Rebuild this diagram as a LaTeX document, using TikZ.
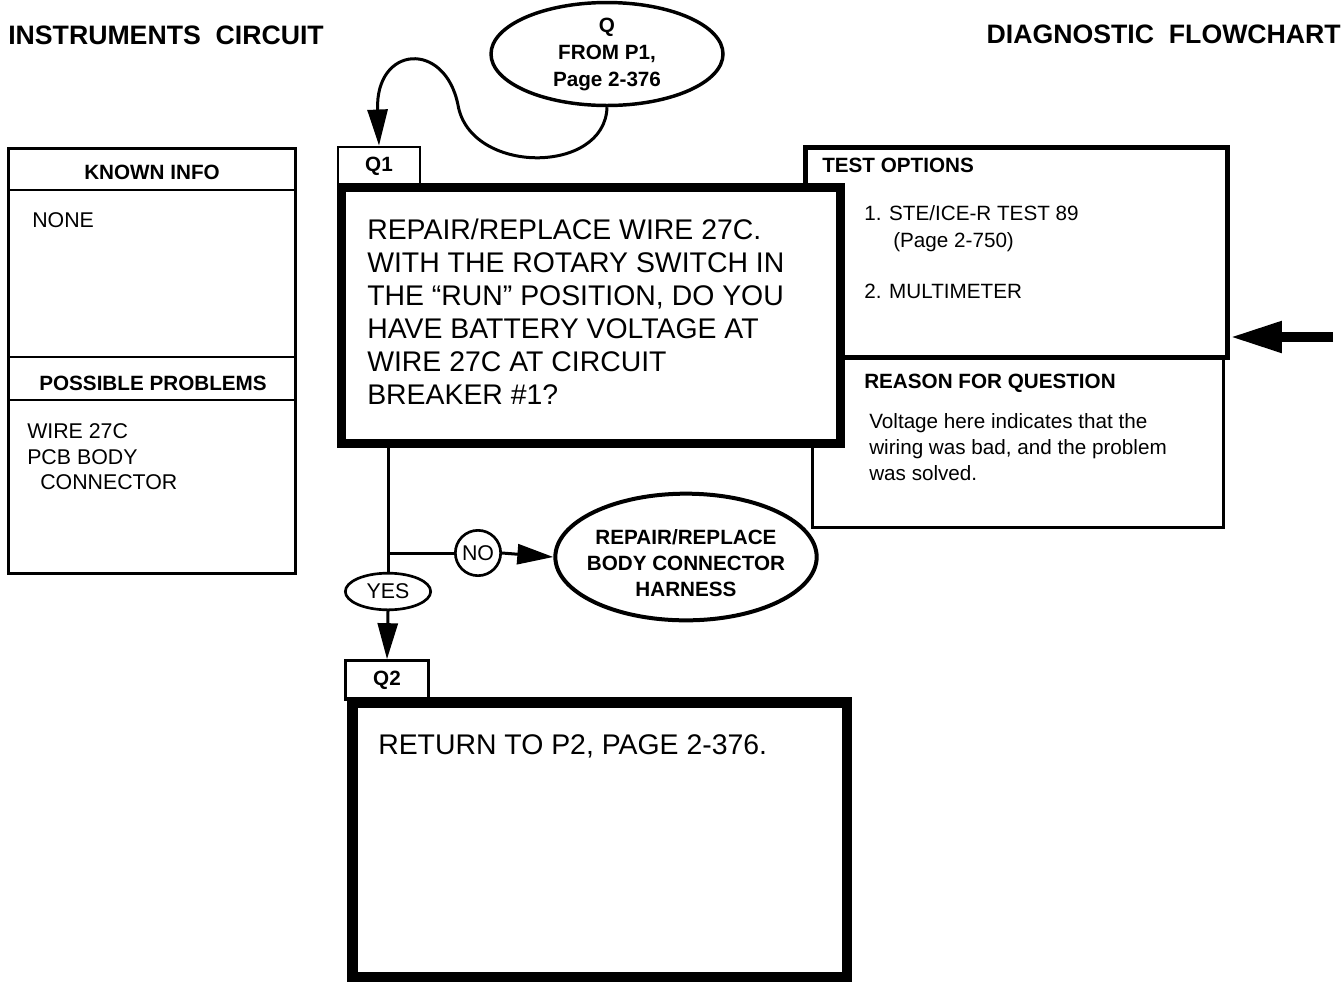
\documentclass[tikz,border=0pt]{standalone}
\usepackage{fontspec}
\setmainfont{Liberation Sans}
\usetikzlibrary{arrows.meta,shapes.geometric}
\begin{document}
\begin{tikzpicture}[x=0.75pt,y=-0.75pt,
  frame/.style={draw, rectangle, inner sep=0pt, anchor=north west},
  tab/.style={draw, rectangle, inner sep=0pt, line width=2.2pt, font=\fontsize{15.5}{19}\selectfont\bfseries},
  hdr/.style={inner sep=0pt, font=\fontsize{20}{24}\selectfont\bfseries},
  lbl/.style={inner sep=0pt, font=\fontsize{15.5}{19}\selectfont\bfseries},
  txt/.style={inner sep=0pt, font=\fontsize{16}{19.1}\selectfont, align=left},
  big/.style={inner sep=0pt, font=\fontsize{21.3}{24.75}\selectfont, align=left},
  tipa/.style={-{Triangle[length=27pt,width=15pt]}},
  conn/.style={line width=2.25pt},
]
\useasboundingbox (0,0) rectangle (1344,982);

% headers
\node[hdr, anchor=north west] (hl) at (8,26) {INSTRUMENTS~~CIRCUIT};
\node[hdr, anchor=north east] (hr) at (1341,25) {DIAGNOSTIC~~FLOWCHART};

% left info box
\node[frame, line width=2pt, minimum width=215.5pt, minimum height=319pt] (info) at (7,147) {};
\draw[line width=2pt] (info.west |- 0,190) -- (info.east |- 0,190);
\draw[line width=2pt] (info.west |- 0,357) -- (info.east |- 0,357);
\draw[line width=2pt] (info.west |- 0,400) -- (info.east |- 0,400);
\node[lbl] (known) at (152,172) {KNOWN INFO};
\node[txt, anchor=west] (none) at (32,220) {NONE};
\node[lbl] (poss) at (153,383) {POSSIBLE PROBLEMS};
\node[txt, anchor=north west] (probs) at (27,423.5) {WIRE 27C\\PCB BODY\\\hspace*{9.75pt}CONNECTOR};

% test options / reason boxes
\node[frame, line width=2pt, minimum width=308.5pt, minimum height=127.7pt] (reason) at (811,356) {};
\node[frame, line width=3.6pt, minimum width=316.6pt, minimum height=157.6pt] (test) at (803,145) {};
\node[lbl, anchor=west] (testt) at (822,165) {TEST OPTIONS};
\node[txt, anchor=north west, font=\fontsize{15.5}{20.25}\selectfont] (opt1) at (864,205.5) {1. STE/ICE-R TEST 89\\\hspace*{21.75pt}(Page 2-750)};
\node[txt, anchor=west, font=\fontsize{15.5}{19}\selectfont] (opt2) at (864,291) {2. MULTIMETER};
\node[lbl, anchor=west] (reasont) at (864,383) {REASON FOR QUESTION};
\node[txt, anchor=north west, font=\fontsize{15.5}{19.5}\selectfont] (reasontxt) at (869,413.5) {Voltage here indicates that the\\wiring was bad, and the problem\\was solved.};

% Q1
\node[tab, minimum width=61.5pt, minimum height=28.5pt] (q1tab) at (379,166) {Q1};
\node[frame, fill=white, line width=6.75pt, minimum width=374.25pt, minimum height=192pt] (q1box) at (337,183) {};
\node[big, anchor=north west] (q1txt) at (367,218.5) {REPAIR/REPLACE WIRE 27C.\\WITH THE ROTARY SWITCH IN\\THE “RUN” POSITION, DO YOU\\HAVE BATTERY VOLTAGE AT\\WIRE 27C AT CIRCUIT\\BREAKER \#1?};

% Q2
\node[tab, line width=2pt, minimum width=62pt, minimum height=29.25pt] (q2tab) at (387,680) {Q2};
\node[frame, fill=white, line width=7.9pt, minimum width=370.9pt, minimum height=205.9pt] (q2box) at (347,697) {};
\node[big, anchor=north west] (q2txt) at (378,734) {RETURN TO P2, PAGE 2-376.};

% top oval
\node[ellipse, draw, line width=2.6pt, minimum width=174pt, minimum height=73pt, inner sep=0pt,
      align=center, font=\fontsize{15.5}{20.25}\selectfont\bfseries] (oval) at (607,54) {Q\\FROM P1,\\Page 2-376};
\draw[conn,tipa] (oval.south) .. controls (605,175) and (470,175) .. (458,105)
                 .. controls (445,40) and (375,45) .. (q1tab.north);

% decision branches
\node[ellipse, draw, line width=2pt, minimum width=64pt, minimum height=27.5pt, inner sep=0pt,
      font=\fontsize{16}{19}\selectfont] (yes) at (388,591.5) {YES};
\node[circle, draw, line width=2pt, minimum size=34pt, inner sep=0pt,
      font=\fontsize{16}{19}\selectfont] (no) at (478,553) {NO};
\node[ellipse, draw, line width=3pt, minimum width=196pt, minimum height=95pt, inner sep=0pt] (rep) at (686,557) {};
\node[lbl, align=center, font=\fontsize{15.5}{19.5}\selectfont\bfseries] (reptxt) at (686,563) {REPAIR/REPLACE\\BODY CONNECTOR\\HARNESS};

\coordinate (branch) at (388,553);
\draw[conn] (q1box.south -| yes.north) -- (yes.north);
\draw[conn] (branch) -- (no.west);
\draw[conn,tipa] (no.east) -- (rep.west);
\draw[conn,tipa] (yes.south) -- (q2tab.north);

% right arrow
\coordinate (rstart) at (1333,337);
\draw[line width=7.5pt, -{Triangle[length=39pt,width=22pt]}] (rstart) -- (rstart -| test.east);
\end{tikzpicture}
\end{document}
